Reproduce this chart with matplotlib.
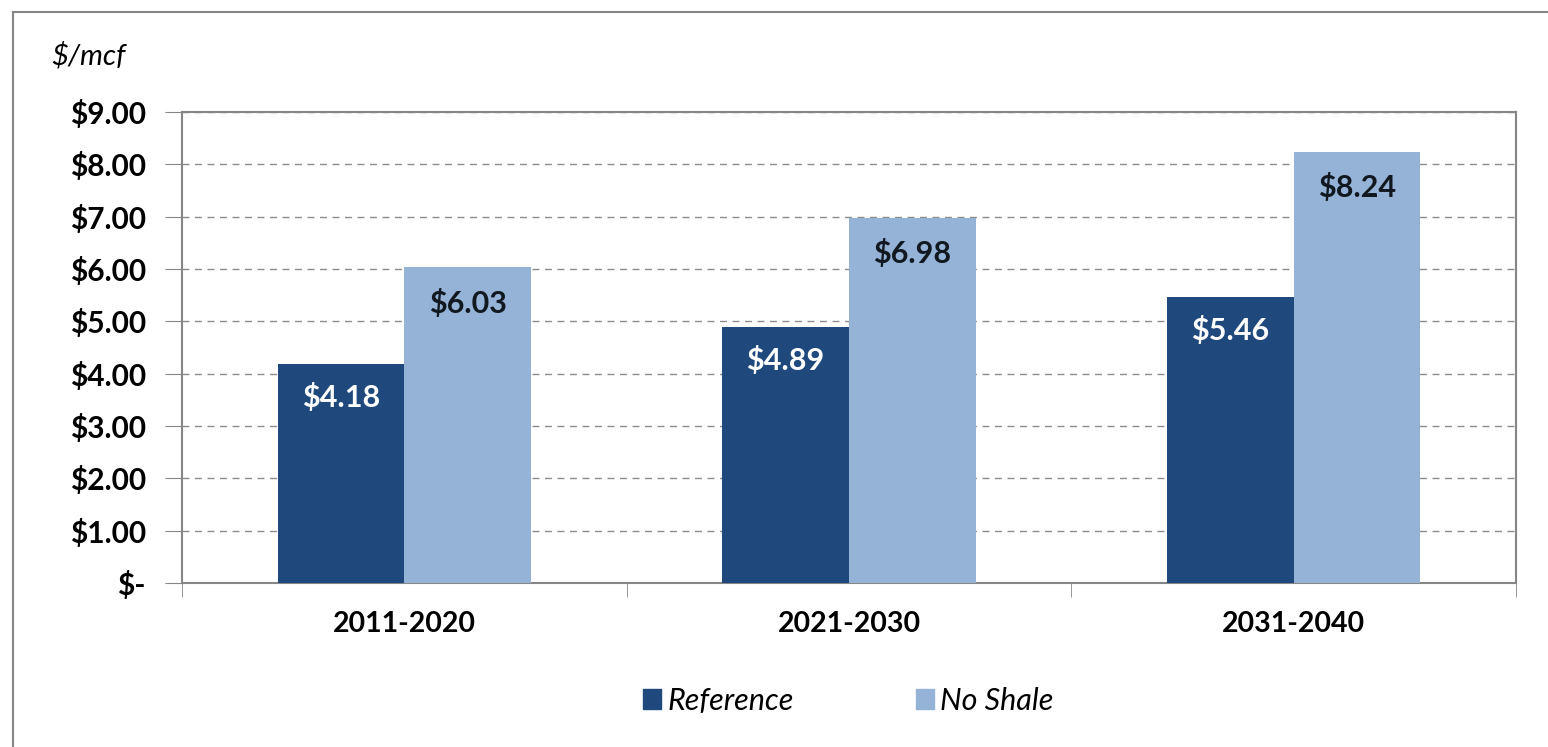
import matplotlib.pyplot as plt
from matplotlib.lines import Line2D
from matplotlib.patches import Patch
from matplotlib.ticker import FuncFormatter
import numpy as np

periods = ["2011-2020", "2021-2030", "2031-2040"]
reference = [4.18, 4.89, 5.46]
no_shale = [6.03, 6.98, 8.24]
series_names = ["Reference", "No Shale"]

dark_blue = "#1f497d"
light_blue = "#95b3d7"
axis_gray = "#868686"

plt.rcParams["font.family"] = ["Lato", "DejaVu Sans"]

fig = plt.figure(figsize=(15.48, 7.47), dpi=100)
ax = fig.add_axes([0.1176, 0.2195, 0.9793 - 0.1176, 0.850 - 0.2195])

x = np.arange(len(periods))
w = 0.285
bars_ref = ax.bar(x - w / 2, reference, w, color=dark_blue, zorder=3)
bars_ns = ax.bar(x + w / 2, no_shale, w, color=light_blue, zorder=3)

# value labels just inside the top of each bar
for b, v in zip(bars_ref, reference):
    ax.text(b.get_x() + b.get_width() / 2, v - 0.64, f"${v:.2f}",
            ha="center", va="center", color="white", fontsize=22,
            fontweight="bold", zorder=4)
for b, v in zip(bars_ns, no_shale):
    ax.text(b.get_x() + b.get_width() / 2, v - 0.68, f"${v:.2f}",
            ha="center", va="center", color="#111820", fontsize=22,
            fontweight="bold", zorder=4)

ax.set_xlim(-0.5, len(periods) - 0.5)
ax.set_ylim(0, 9)
ax.set_yticks(np.arange(0, 10, 1))
ax.yaxis.set_major_formatter(FuncFormatter(lambda v, p: "$-" if v == 0 else f"${v:.2f}"))

ax.set_xticks(x)
ax.set_xticklabels(periods)
ax.set_xticks(np.arange(-0.5, len(periods), 1), minor=True)
ax.tick_params(axis="x", which="major", length=0, pad=20, labelsize=20.5)
ax.tick_params(axis="x", which="minor", length=10, color=axis_gray, direction="out")
ax.tick_params(axis="y", length=12, color=axis_gray, direction="out", pad=14,
               labelsize=21.5)
for lab in ax.get_xticklabels() + ax.get_yticklabels():
    lab.set_fontweight("bold")

ax.yaxis.grid(True, linestyle=(0, (5, 4)), color="#8c8c8c", linewidth=1.0, zorder=0)
ax.set_axisbelow(True)
for s in ax.spines.values():
    s.set_color(axis_gray)
    s.set_linewidth(1.5)

fig.text(0.033, 0.925, "$/mcf", fontsize=21, style="italic", ha="left", va="center")

handles = [Patch(color=dark_blue), Patch(color=light_blue)]
fig.legend(handles, series_names, loc="center", bbox_to_anchor=(0.548, 0.062),
           ncol=2, frameon=False, prop={"size": 22, "style": "italic"},
           handlelength=0.6, handleheight=0.6, handletextpad=0.2, columnspacing=4.0)

# outer frame of the chart area
fig.add_artist(Line2D([13 / 1548, 13 / 1548], [0, 1 - 12 / 747], color=axis_gray, linewidth=1.5))
fig.add_artist(Line2D([13 / 1548, 1], [1 - 12 / 747, 1 - 12 / 747], color=axis_gray, linewidth=1.5))

fig.savefig("out.png", dpi=100)
